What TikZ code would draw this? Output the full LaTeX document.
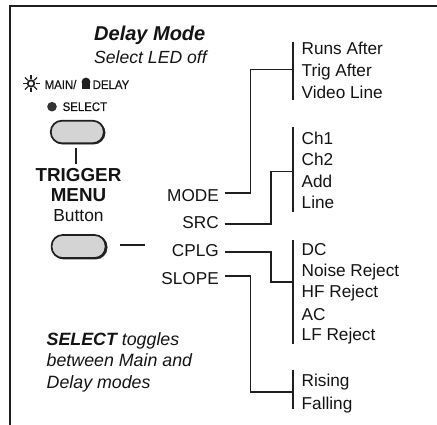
\documentclass[tikz,border=0pt]{standalone}
\usepackage{fontspec}
\setmainfont{Liberation Sans}
\newfontfamily\smallf[FakeStretch=0.92,FakeBold=0.25]{Liberation Sans}
\usepackage{tikz}
\newcommand{\fs}[1]{\fontsize{#1}{#1}\selectfont}
\tikzset{x=1pt,y=-1pt,
 lbl/.style={inner sep=0pt,anchor=base west,font=\fs{17.2},text=black!92},
 rlbl/.style={inner sep=0pt,anchor=base east,font=\fs{17.2},text=black!92},
 clbl/.style={inner sep=0pt,anchor=base,font=\fs{17.4},text=black!92},
 small/.style={inner sep=0pt,anchor=base west,font=\fs{12.4}\smallf,text=black!92},
 note/.style={inner sep=0pt,anchor=base west,font=\fs{17.8}\itshape,text=black!92},
 wire/.style={line width=1.7pt,black!88,line join=miter},
 bar/.style={line width=2pt,black!88},
 btn/.style={draw=black!88,line width=1.7pt,fill=black!17,rounded corners=11pt,inner sep=0pt}}
\begin{document}
\begin{tikzpicture}
\useasboundingbox (0,0) rectangle (437,425);
\fill[white] (0,0) rectangle (437,425);
\draw[line width=2pt,black!88] (10,425) -- (10,6) -- (437,6);
\node[inner sep=0pt,anchor=base west,font=\fs{20}\bfseries\itshape,text=black!92] (title) at (94,40.7) {Delay Mode};
\node[inner sep=0pt,anchor=base west,font=\fs{17.6}\itshape,text=black!92] (sub) at (94,63.3) {Select LED off};
% indicators
\coordinate (sun) at (31,83.5);
\foreach \a in {0,45,...,315} \draw[line width=1.3pt,black!88] (sun) ++(\a:4.5) -- ++(\a:4);
\fill[black!88] (sun) circle (4.2);
\fill[white] (sun) circle (2.2);
\node[small] (main) at (44.5,89) {MAIN/};
\fill[black!88] (86,82) circle (4.4);
\fill[black!88] (82.3,83) rectangle (89.7,89);
\node[small] (delay) at (92.5,89) {DELAY};
\fill[black!80] (52,106.7) circle (4.8);
\node[small] (select) at (62.5,111) {SELECT};
% buttons
\fill[black!85,rounded corners=12pt] (51,121) rectangle (105.5,144.5);
\node[btn,minimum width=53pt,minimum height=22.5pt] (b1) at (77.3,132) {};
\fill[black!85,rounded corners=12pt] (52,235) rectangle (107.5,259.5);
\node[btn,minimum width=54pt,minimum height=23pt] (b2) at (78.6,246.5) {};
\node[clbl,font=\fs{18.8}\bfseries] (trig) at (78.5,182) {TRIGGER};
\node[clbl,font=\fs{18.8}\bfseries] (menu) at (78.5,201.7) {MENU};
\node[clbl] (button) at (78.5,222) {Button};
\coordinate (t1) at (76,148); \coordinate (t2) at (76,164);
\draw[wire] (t1) -- (t2);
\coordinate (d1) at (120,245); \coordinate (d2) at (145,245);
\draw[wire] (d1) -- (d2);
% left labels
\node[rlbl] (mode) at (219,201.6) {MODE};
\node[rlbl] (src) at (219,229) {SRC};
\node[rlbl] (cplg) at (219,256.7) {CPLG};
\node[rlbl] (slope) at (219,284) {SLOPE};
% option lists
\foreach \n/\y/\t in {o1/55/Runs After,o2/77/Trig After,o3/98.7/Video Line,
 o4/145/Ch1,o5/166/Ch2,o6/187.7/Add,o7/209/Line,
 o8/255/DC,o9/276.7/Noise Reject,o10/298/HF Reject,o11/320/AC,o12/341/LF Reject,
 o13/386.7/Rising,o14/409/Falling}
  \node[lbl] (\n) at (301.5,\y) {\t};
% bars
\coordinate (a1) at (293,42); \coordinate (a2) at (293,100);
\coordinate (c1) at (293,127); \coordinate (c2) at (293,212);
\coordinate (e1) at (293,240.5); \coordinate (e2) at (293,343.5);
\coordinate (g1) at (293,370); \coordinate (g2) at (293,408.5);
\draw[bar] (a1) -- (a2); \draw[bar] (c1) -- (c2); \draw[bar] (e1) -- (e2); \draw[bar] (g1) -- (g2);
% wires
\coordinate (w1) at (224.5,193.3); \coordinate (j1) at (293,69.5);
\coordinate (w2) at (224.5,224.3); \coordinate (j2) at (293,171.5);
\coordinate (w3) at (224.5,252);   \coordinate (j3) at (293,281.7);
\coordinate (w4) at (224.5,275.7); \coordinate (j4) at (293,391.7);
\draw[wire] (w1) -| (250.5,69.5) -- (j1);
\draw[wire] (w2) -| (271,171.5) -- (j2);
\draw[wire] (w3) -| (271,281.7) -- (j3);
\draw[wire] (w4) -| (250.5,391.7) -- (j4);
% note
\node[note] (n1) at (46.5,345) {\textbf{SELECT} toggles};
\node[note] (n2) at (46.5,366.7) {between Main and};
\node[note] (n3) at (46.5,388) {Delay modes};
\end{tikzpicture}
\end{document}
